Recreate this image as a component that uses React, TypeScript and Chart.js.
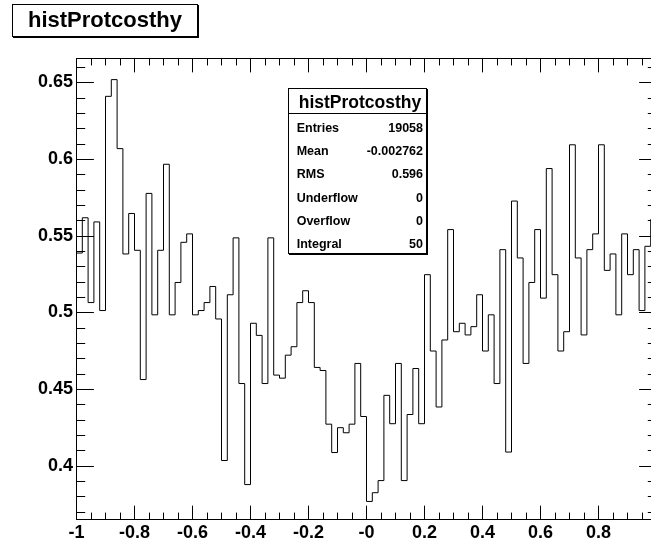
import React, { useEffect, useRef } from 'react';
import { Chart, registerables } from 'chart.js';

Chart.register(...registerables);

// Histogram range and bin contents (100 bins from -1 to 1)
const X_MIN = -1;
const X_MAX = 1;
const binValues: number[] = [
  0.5386, 0.5616, 0.5063, 0.5589, 0.5011, 0.6408, 0.6517, 0.6067, 0.5380, 0.5644,
  0.5404, 0.4561, 0.5775, 0.4983, 0.5404, 0.5965, 0.4983, 0.5194, 0.5456, 0.5511,
  0.4983, 0.5011, 0.5063, 0.5168, 0.4956, 0.4033, 0.5114, 0.5485, 0.4535, 0.3876,
  0.4928, 0.4849, 0.4535, 0.5485, 0.4590, 0.4570, 0.4720, 0.4775, 0.5063, 0.5140,
  0.5063, 0.4640, 0.4620, 0.4270, 0.4085, 0.4247, 0.4214, 0.4270, 0.4666, 0.4320,
  0.3766, 0.3823, 0.3902, 0.4458, 0.4273, 0.4666, 0.3902, 0.4333, 0.4633, 0.4273,
  0.5245, 0.4747, 0.4382, 0.4819, 0.5539, 0.4873, 0.4928, 0.4852, 0.4906, 0.5114,
  0.4747, 0.4983, 0.4535, 0.5408, 0.4088, 0.5725, 0.5354, 0.4666, 0.5194, 0.5539,
  0.5092, 0.5937, 0.5245, 0.4747, 0.4873, 0.6092, 0.5354, 0.4852, 0.5408, 0.5511,
  0.6092, 0.5273, 0.5380, 0.4983, 0.5511, 0.5245, 0.5408, 0.5011, 0.5430, 0.5605,
];

const Y_MIN = 0.3645;
const Y_MAX = 0.6658;

const xTickValues = [-1, -0.8, -0.6, -0.4, -0.2, 0, 0.2, 0.4, 0.6, 0.8, 1];
const xTickLabels = ['-1', '-0.8', '-0.6', '-0.4', '-0.2', '-0', '0.2', '0.4', '0.6', '0.8', '1'];
const yTickValues = [0.4, 0.45, 0.5, 0.55, 0.6, 0.65];
const yTickLabels = ['0.4', '0.45', '0.5', '0.55', '0.6', '0.65'];

const histTitle = 'histProtcosthy';
const statNames = ['Entries', 'Mean', 'RMS', 'Underflow', 'Overflow', 'Integral'];
const statValues = ['19058', '-0.002762', '0.596', '0', '0', '50'];

const FONT = '"Liberation Sans", Arial, Helvetica, sans-serif';
const CANVAS_W = 700;
const CANVAS_H = 547;

const rootFrame = {
  id: 'rootFrame',
  afterDatasetsDraw(chart: any) {
    const { ctx, chartArea: a, scales } = chart;
    const xs = scales.x;
    const ys = scales.y;
    const h = a.bottom - a.top;
    const w = a.right - a.left;
    const xMaj = 0.03 * h;
    const yMaj = 0.03 * w;
    const top = Math.round(a.top) + 0.5;
    const bottom = Math.round(a.bottom) - 0.5;
    const left = Math.floor(a.left) + 0.5;
    const right = Math.floor(a.right) + 0.5;
    ctx.save();
    ctx.strokeStyle = '#000';
    ctx.lineWidth = 1;
    ctx.beginPath();
    // x-axis ticks (major every 0.2, minor every 0.05), bottom and top, pointing inward
    for (let k = 0; k <= 40; k++) {
      const v = X_MIN + k * 0.05;
      const px = Math.floor(xs.getPixelForValue(v)) + 0.5;
      const len = k % 4 === 0 ? xMaj : xMaj / 2;
      ctx.moveTo(px, bottom);
      ctx.lineTo(px, bottom - len);
      ctx.moveTo(px, top);
      ctx.lineTo(px, top + len);
    }
    // y-axis ticks (major every 0.05, minor every 0.01), left and right
    for (let k = 36; k <= 67; k++) {
      const v = k / 100;
      if (v < Y_MIN || v > Y_MAX) continue;
      const py = Math.round(ys.getPixelForValue(v)) + 0.5;
      const len = k % 5 === 0 ? yMaj : yMaj / 2;
      ctx.moveTo(left, py);
      ctx.lineTo(left + len, py);
      ctx.moveTo(right, py);
      ctx.lineTo(right - len, py);
    }
    ctx.stroke();
    ctx.strokeRect(left, top, right - left, bottom - top);
    ctx.restore();
  },
};

export default function App() {
  const canvasRef = useRef<HTMLCanvasElement | null>(null);

  useEffect(() => {
    const canvas = canvasRef.current;
    if (!canvas) return;
    const n = binValues.length;
    const binWidth = (X_MAX - X_MIN) / n;
    const points = binValues.map((v, i) => ({ x: X_MIN + i * binWidth, y: v }));
    points.push({ x: X_MAX, y: binValues[n - 1] });

    const chart = new Chart(canvas, {
      type: 'line',
      data: {
        datasets: [
          {
            label: histTitle,
            data: points,
            stepped: 'before',
            borderColor: '#000',
            borderWidth: 1,
            pointRadius: 0,
            fill: false,
            tension: 0,
          },
        ],
      },
      options: {
        animation: false,
        responsive: false,
        devicePixelRatio: 1,
        layout: { padding: { top: 58, left: 0, right: CANVAS_W - 656.5, bottom: 0 } },
        plugins: {
          legend: { display: false },
          title: { display: false },
          tooltip: { enabled: false },
        },
        scales: {
          x: {
            type: 'linear',
            min: X_MIN,
            max: X_MAX,
            grid: { display: false, drawTicks: false },
            border: { display: false },
            afterBuildTicks: (s: any) => {
              s.ticks = xTickValues.map((v) => ({ value: v }));
            },
            afterFit: (s: any) => {
              s.height = 27;
            },
            ticks: {
              autoSkip: false,
              maxRotation: 0,
              padding: 2,
              color: '#000',
              font: { family: FONT, size: 18, weight: 'bold' },
              callback: (_v: any, i: number) => xTickLabels[i],
            },
          },
          y: {
            type: 'linear',
            min: Y_MIN,
            max: Y_MAX,
            grid: { display: false, drawTicks: false },
            border: { display: false },
            afterBuildTicks: (s: any) => {
              s.ticks = yTickValues.map((v) => ({ value: v }));
            },
            afterFit: (s: any) => {
              s.width = 76.5;
            },
            ticks: {
              autoSkip: false,
              padding: 3.5,
              color: '#000',
              font: { family: FONT, size: 18, weight: 'bold' },
              callback: (_v: any, i: number) => yTickLabels[i],
            },
          },
        },
      },
      plugins: [rootFrame],
    });
    return () => chart.destroy();
  }, []);

  return (
    <div
      style={{
        position: 'fixed',
        left: 0,
        top: 0,
        width: 651,
        height: 547,
        overflow: 'hidden',
        background: '#fff',
        fontFamily: FONT,
        color: '#000',
      }}
    >
      <canvas
        ref={canvasRef}
        width={CANVAS_W}
        height={CANVAS_H}
        style={{ position: 'absolute', left: 0, top: 0, width: CANVAS_W, height: CANVAS_H }}
      />
      {/* Title pave */}
      <div
        style={{
          position: 'absolute',
          left: 12,
          top: 4,
          width: 186,
          height: 33,
          boxSizing: 'border-box',
          border: '1px solid #000',
          boxShadow: '1px 1px 0 #000',
          background: '#fff',
        }}
      >
        <div
          style={{
            position: 'absolute',
            left: 0,
            right: 0,
            top: 4.4,
            textAlign: 'center',
            fontWeight: 'bold',
            fontSize: 22,
            lineHeight: '22px',
            whiteSpace: 'nowrap',
          }}
        >
          {histTitle}
        </div>
      </div>
      {/* Stats box */}
      <div
        style={{
          position: 'absolute',
          left: 288,
          top: 88,
          width: 139,
          height: 166,
          boxSizing: 'border-box',
          border: '1px solid #000',
          boxShadow: '1px 1px 0 #000',
          background: '#fff',
        }}
      >
        <div
          style={{
            position: 'absolute',
            left: 0,
            right: 0,
            top: 0,
            height: 24,
            borderBottom: '1px solid #000',
          }}
        />
        <div
          style={{
            position: 'absolute',
            left: 4,
            right: -1,
            top: 5.2,
            textAlign: 'center',
            fontWeight: 'bold',
            fontSize: 17.5,
            lineHeight: '17.5px',
            whiteSpace: 'nowrap',
          }}
        >
          {histTitle}
        </div>
        {statNames.map((name, i) => (
          <div
            key={name}
            style={{
              position: 'absolute',
              left: 7.7,
              right: 3,
              top: 32.7 + 23.34 * i,
              height: 12.5,
              fontWeight: 'bold',
              fontSize: 12.5,
              lineHeight: '12.5px',
              whiteSpace: 'nowrap',
            }}
          >
            <span style={{ position: 'absolute', left: 0 }}>{name}</span>
            <span style={{ position: 'absolute', right: 0 }}>{statValues[i]}</span>
          </div>
        ))}
      </div>
    </div>
  );
}
